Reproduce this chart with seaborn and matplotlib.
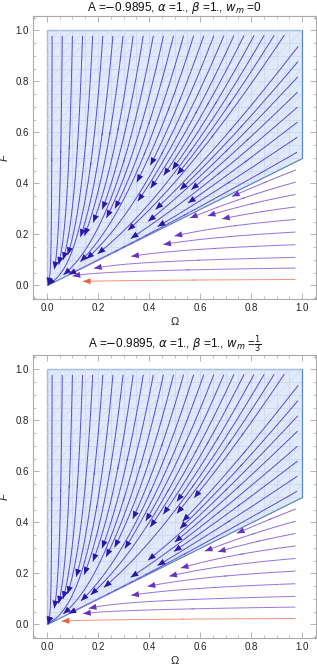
import numpy as np
import matplotlib
matplotlib.use("Agg")
import matplotlib.pyplot as plt
import seaborn as sns
from matplotlib.patches import Polygon
from matplotlib.colors import LinearSegmentedColormap, Normalize
from matplotlib.ticker import MultipleLocator, FormatStrFormatter

# model parameters shown in the titles
A = -0.9895
alpha = 1.0
beta = 1.0
w_m_values = [0.0, 1.0 / 3.0]
w_m_labels = ["0", r"$\frac{1}{3}$"]

# shaded region (Omega, F) corners; its lower edge is the line F = 0.5 Omega
region_omega = [0.0, 0.0, 1.0, 1.0]
region_F = [0.0, 1.0, 1.0, 0.5]
edge_slope = 0.5

# stream seeds (top edge and right edge)
seed_omega_top = [0.02, 0.06, 0.10, 0.14, 0.18, 0.22, 0.26, 0.30, 0.34, 0.38,
                  0.42, 0.46, 0.50, 0.54, 0.58, 0.62, 0.66, 0.70, 0.74, 0.78,
                  0.82, 0.86, 0.90, 0.94]
seed_F_right_upper = [0.53, 0.59, 0.65, 0.71, 0.77, 0.83, 0.89, 0.95]
seed_F_right_lower = [0.023, 0.068, 0.11, 0.16, 0.21, 0.26, 0.31, 0.36, 0.41, 0.46]
# where the lower streamlines stop (Omega of their arrowhead), per panel
lower_end_omega = [
    [0.165, 0.12, 0.19, 0.33, 0.46, 0.49, 0.68, 0.62, 0.55, 0.70],
    [0.08, 0.15, 0.17, 0.34, 0.39, 0.48, 0.51, 0.67, 0.60, 0.72],
]

line_colors = {"upper": "#5646cf", "lower": "#9a74de", "red": "#f39078"}
arrow_colors = {"upper": "#2a16a8", "lower": "#6a30c0", "red": "#f0603c"}


def field(om, f, w_m):
    """Phase-space flow towards the origin (d lnF / d lnOmega = p)."""
    r = f / np.maximum(om, 1e-4)
    k = 1.12 - 0.08 * w_m
    p_up = 1 + k * np.maximum(r - edge_slope, 0) ** 0.6 * (1 - 0.5 * om)
    p_low = 0.2 + 0.8 * (r / edge_slope) ** 3
    p = np.where(r > edge_slope, p_up, p_low)
    return -om, -p * f


def draw_region(ax):
    poly = Polygon(list(zip(region_omega, region_F)), closed=True,
                   facecolor="#e0eafa", edgecolor="#5a86c2", lw=0.9, zorder=1)
    ax.add_patch(poly)
    mesh = np.arange(0.0, 1.0001, 0.05)
    for m in mesh:
        l1, = ax.plot([m, m], [0, 1], color="#c6d7f1", lw=0.5, zorder=1.5)
        l2, = ax.plot([0, 1], [m, m], color="#c6d7f1", lw=0.5, zorder=1.5)
        l1.set_clip_path(poly)
        l2.set_clip_path(poly)
    for c in np.arange(-1.0, 1.0001, 0.05):
        l3, = ax.plot([0, 1], [c, c + 1], color="#cddcf3", lw=0.5, zorder=1.5)
        l3.set_clip_path(poly)


def kind_at(x, y, f0):
    if y > edge_slope * x - 1e-3 or x < 0.04:
        return "upper"
    return "red" if f0 < 0.04 else "lower"


def end_arrows(ax, sp, f0=1.0):
    """Put an arrowhead at the end of every streamline, Mathematica style."""
    segs = sp.lines.get_segments()
    for i, s in enumerate(segs):
        last = i == len(segs) - 1 or not np.allclose(segs[i + 1][0], s[1])
        if last:
            kind = kind_at(s[1][0], s[1][1], f0)
            ax.annotate("", xy=s[1], xytext=s[0], zorder=4,
                        arrowprops=dict(arrowstyle="-|>,head_length=0.5,head_width=0.2",
                                        mutation_scale=11, color=arrow_colors[kind],
                                        lw=0, shrinkA=0, shrinkB=0))


cmap = LinearSegmentedColormap.from_list(
    "mma", [(0.0, line_colors["red"]), (0.035, line_colors["red"]),
            (0.05, line_colors["lower"]), (0.5, "#8c64d8"),
            (0.52, line_colors["upper"]), (1.0, line_colors["upper"])])
norm = Normalize(0.0, 1.0)

sns.set_theme(style="ticks")
plt.rcParams["font.family"] = ["Liberation Sans", "DejaVu Sans"]

fig = plt.figure(figsize=(3.17, 6.70), dpi=100)
axes = [fig.add_axes([0.104, 0.554, 0.893, 0.422]),
        fig.add_axes([0.104, 0.048, 0.893, 0.422])]

omega = np.linspace(0.0, 1.0, 200)
F = np.linspace(0.0, 1.0, 200)
OM, FF = np.meshgrid(omega, F)
seeds_up = [[o, 0.995] for o in seed_omega_top] + [[0.995, f] for f in seed_F_right_upper]

for ax, w_m, lab, ends in zip(axes, w_m_values, w_m_labels, lower_end_omega):
    draw_region(ax)
    U, V = field(OM, FF, w_m)
    C = np.where((FF > edge_slope * OM) | (OM < 0.04), 1.0, FF)
    style = dict(cmap=cmap, norm=norm, linewidth=0.7, arrowstyle="-",
                 integration_direction="forward", zorder=3)
    sp = ax.streamplot(OM, FF, U, V, color=C, density=2.0,
                       start_points=seeds_up, **style)
    end_arrows(ax, sp)
    for f0, om_end in zip(seed_F_right_lower, ends):
        # lower lines keep one colour along their length
        C_low = np.where(FF > edge_slope * OM, 1.0, np.full_like(FF, min(f0, 0.48)))
        sp = ax.streamplot(OM, FF, U, V, color=C_low, density=1.6,
                           start_points=[[0.995, f0]],
                           maxlength=(0.995 - om_end) * 1.03, **style)
        end_arrows(ax, sp, f0)
    ax.set_xlim(-0.055, 1.055)
    ax.set_ylim(-0.053, 1.056)
    ax.xaxis.set_major_locator(MultipleLocator(0.2))
    ax.yaxis.set_major_locator(MultipleLocator(0.2))
    ax.xaxis.set_minor_locator(MultipleLocator(0.05))
    ax.yaxis.set_minor_locator(MultipleLocator(0.05))
    ax.xaxis.set_major_formatter(FormatStrFormatter("%.1f"))
    ax.yaxis.set_major_formatter(FormatStrFormatter("%.1f"))
    ax.tick_params(which="both", direction="in", top=True, right=True,
                   color="#aaaaaa", labelsize=7, labelcolor="#222222", pad=3)
    ax.tick_params(which="major", length=4, width=0.6)
    ax.tick_params(which="minor", length=2, width=0.5)
    for s in ax.spines.values():
        s.set_color("#aaaaaa")
        s.set_linewidth(0.8)
    ax.set_xlabel("Ω", fontsize=8, labelpad=3, color="#222222")
    ax.set_ylabel("F", fontsize=8, fontstyle="italic", labelpad=4, color="#222222")
    ax.set_title(r"A =$-$0.9895, $\alpha$ =1., $\beta$ =1., $w_m$ =" + lab,
                 fontsize=8.5, pad=3, color="#111111")

fig.savefig("out.png", dpi=100)
